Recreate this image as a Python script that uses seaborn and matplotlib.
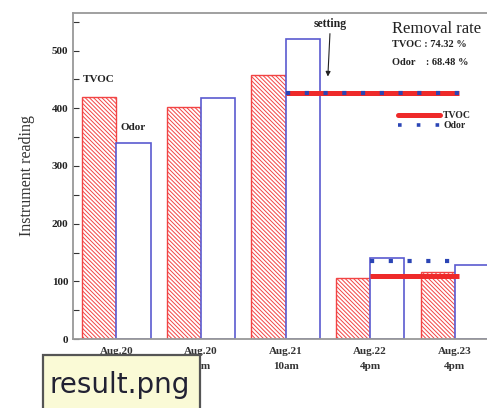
import matplotlib
matplotlib.use("Agg")
import matplotlib.pyplot as plt
from matplotlib.lines import Line2D
from matplotlib.patches import Rectangle
from matplotlib.ticker import MultipleLocator
import seaborn as sns
import pandas as pd

dates = ["Aug.20\n10am", "Aug.20\n4pm", "Aug.21\n10am", "Aug.22\n4pm", "Aug.23\n4pm"]
tvoc = [420, 403, 458, 105, 117]
odor = [340, 418, 520, 140, 128]
setting_start = [2.0, 3.0]
setting_end = [4.05, 4.05]
tvoc_setting = [427, 109]
odor_setting = [427, 135]

df = pd.DataFrame({
    "date": dates * 2,
    "value": tvoc + odor,
    "series": ["TVOC"] * len(dates) + ["Odor"] * len(dates),
})

sns.set_style("ticks")
serif = ["Liberation Serif", "DejaVu Serif"]
plt.rcParams["font.family"] = serif
plt.rcParams["hatch.linewidth"] = 0.7

fig = plt.figure(figsize=(4.87, 4.08), dpi=100)
ax = fig.add_axes([0.150, 0.169, 0.85, 0.799])

red = "#f24444"
blue = "#5a5ad0"
sns.barplot(data=df, x="date", y="value", hue="series", hue_order=["TVOC", "Odor"],
            width=0.81, ax=ax, legend=False, order=dates)

n = len(dates)
for i, p in enumerate(ax.patches[:2 * n]):
    p.set_facecolor("white")
    if i < n:
        p.set_edgecolor(red)
        p.set_hatch("\\" * 8)
        if hasattr(p, "set_hatchcolor"):
            p.set_hatchcolor("#f77c7c")
        p.set_linewidth(1.0)
    else:
        p.set_edgecolor(blue)
        p.set_linewidth(1.2)

for xs, xe, yt, yo in zip(setting_start, setting_end, tvoc_setting, odor_setting):
    ax.plot([xs, xe], [yt, yt], color="#ee2a2a", lw=3.6, solid_capstyle="butt", zorder=4)
    ax.plot([xs, xe], [yo, yo], color="#2b45b5", lw=3.0, ls=(0, (1, 3.5)),
            dash_capstyle="butt", zorder=5)

ax.set_xlim(-0.51, 4.38)
ax.set_ylim(0, 565)
ax.yaxis.set_major_locator(MultipleLocator(100))
ax.yaxis.set_minor_locator(MultipleLocator(50))
ax.tick_params(axis="y", which="both", direction="in", length=4, width=0.8,
               labelsize=8, colors="#333333")
ax.tick_params(axis="y", which="major", labelcolor="#222222")
ax.tick_params(axis="x", length=0, labelsize=8, pad=6, labelcolor="#333333")
for lbl in ax.get_yticklabels():
    lbl.set_fontweight("bold")
for lbl in ax.get_xticklabels():
    lbl.set_fontweight("bold")
    lbl.set_linespacing(1.75)
ax.set_xlabel("")
ax.set_ylabel("Instrument reading", fontsize=11.5, color="#333333", labelpad=12)
ax.spines["right"].set_visible(False)
for s in ["left", "bottom", "top"]:
    ax.spines[s].set_color("#999999")
    ax.spines[s].set_linewidth(1.3)

ax.text(-0.4, 445, "TVOC", fontsize=8, fontweight="bold", color="#222222")
ax.text(0.05, 362, "Odor", fontsize=8, fontweight="bold", color="#222222")
ax.annotate("setting", xy=(2.5, 455), xytext=(2.53, 535),
            ha="center", va="bottom", fontsize=8.5, fontweight="bold", color="#222222",
            arrowprops=dict(arrowstyle="-|>", color="#222222", lw=0.8,
                            mutation_scale=7, shrinkA=0, shrinkB=0))
ax.text(3.26, 530, "Removal rate", fontsize=12, color="#222222")
ax.text(3.26, 507, "TVOC : 74.32 %", fontsize=7.5, fontweight="bold", color="#222222")
ax.text(3.26, 475, "Odor    : 68.48 %", fontsize=7.5, fontweight="bold", color="#222222")

handles = [Line2D([], [], color="#ee2a2a", lw=3.6),
           Line2D([], [], color="#2b45b5", lw=2.6, ls=(0, (1, 4.2)))]
leg = ax.legend(handles, ["TVOC", "Odor"], loc="upper left",
                bbox_to_anchor=(0.765, 0.725), frameon=False,
                handlelength=4.3, handletextpad=0.3, labelspacing=0.1,
                prop={"family": serif, "weight": "bold", "size": 7})

fig.patches.append(Rectangle((43 / 487, -0.01), 157 / 487, (408 - 355) / 408 + 0.01,
                             transform=fig.transFigure, facecolor="#fafad6",
                             edgecolor="#555555", lw=1.6, zorder=10))
fig.text(50 / 487, 1 - 393 / 408, "result.png", fontsize=20, family="DejaVu Sans",
         color="#222233", va="baseline", zorder=11)

fig.savefig("out.png", dpi=100)
